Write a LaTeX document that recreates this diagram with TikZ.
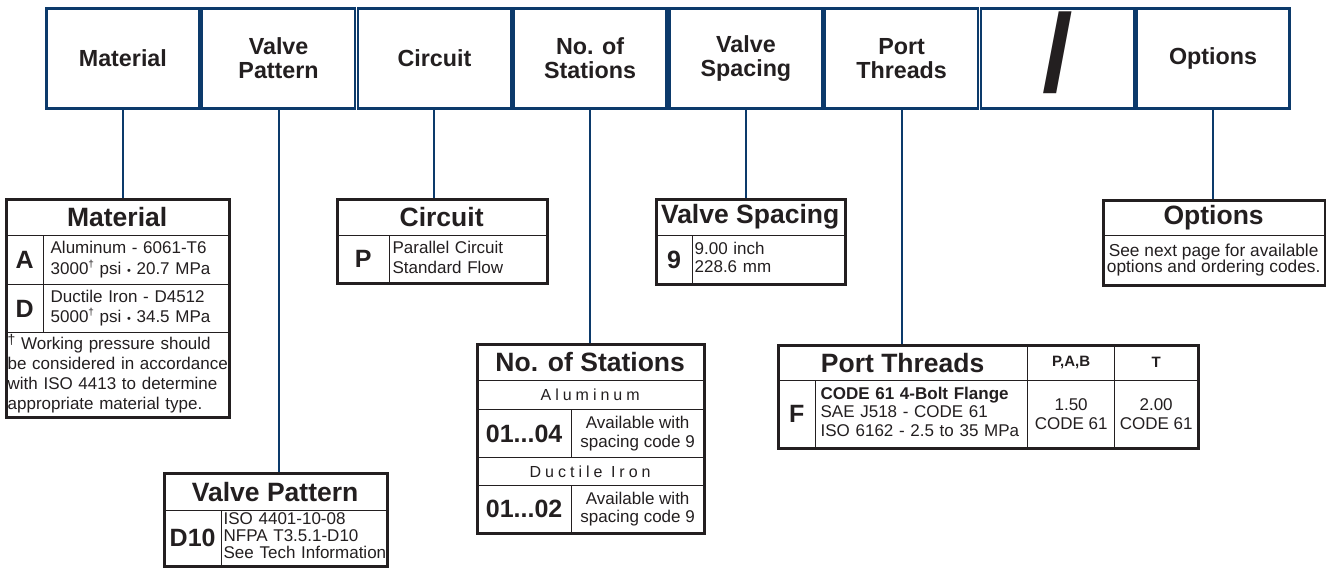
\documentclass[tikz,border=0pt]{standalone}
\usepackage{fontspec}
\setmainfont{Liberation Sans}
\definecolor{mvblue}{RGB}{12,58,107}
\definecolor{mvline}{RGB}{35,31,32}
\definecolor{mvtext}{RGB}{35,31,32}
\newcommand{\hdrfont}{\fontsize{23.3}{24}\selectfont\bfseries}
\newcommand{\ttlfont}{\fontsize{26.5}{28}\selectfont\bfseries}
\newcommand{\codefont}{\fontsize{25}{26}\selectfont\bfseries}
\newcommand{\txtfont}{\fontsize{17}{18.5}\selectfont}
\newcommand{\colfont}{\fontsize{15}{16}\selectfont\bfseries}
\newcommand{\spcfont}{\fontsize{16}{18}\selectfont\addfontfeature{LetterSpace=25}}
\newcommand{\slashfont}{\fontsize{110}{110}\selectfont\bfseries}
\newcommand{\dg}{\raisebox{0.42em}{\fontsize{10}{10}\selectfont †}}
\newcommand{\bul}{{\fontsize{11}{11}\selectfont •}}
\newcommand{\lines}[1]{\begin{tabular}{@{}l@{}}#1\end{tabular}}
\usetikzlibrary{positioning}

\begin{document}
\begin{tikzpicture}[x=1pt, y=-1pt,
  hdrbox/.style={draw=mvblue, line width=2.6pt, fill=white,
                 minimum width=153pt, minimum height=100.5pt,
                 inner sep=0pt, font=\hdrfont, text=mvtext, align=center},
  tblcell/.style={draw=mvline, line width=1.3pt, anchor=north west,
                  inner sep=0pt, text=mvtext, align=center, font=\txtfont},
  tbltitle/.style={tblcell, font=\ttlfont},
  codecell/.style={tblcell, font=\codefont},
  desccell/.style={tblcell, align=left, inner xsep=3pt},
  tblframe/.style={draw=mvline, line width=2.6pt, anchor=north west, inner sep=0pt},
  stem/.style={draw=mvblue, line width=2pt}
]
\useasboundingbox[fill=white] (0,0) rectangle (1326,575);

% Header row
\node[hdrbox] (material) at (122.9,58.5) {Material};
\node[hdrbox] (pattern)  at (278.6,58.5) {Valve\\Pattern};
\node[hdrbox] (circuit)  at (434.4,58.5) {Circuit};
\node[hdrbox] (stations) at (590.1,58.5) {No. of\\Stations};
\node[hdrbox] (spacing)  at (745.9,58.5) {Valve\\Spacing};
\node[hdrbox] (threads)  at (901.6,58.5) {Port\\Threads};
\node[hdrbox] (slash)    at (1057.4,58.5) {};
\node[font=\slashfont, text=mvtext, inner sep=0pt] (slashmark) at (1058,52.5) {/};
\node[hdrbox] (options)  at (1213.1,58.5) {Options};

% Material table
\node[tbltitle, minimum width=223pt, minimum height=37pt] (materialttl) at (5,198) {Material};
\node[codecell, minimum width=38pt, minimum height=49pt] (matA) at (5,235) {A};
\node[desccell, text width=171pt, minimum height=49pt, inner xsep=7pt, font=\fontsize{17}{20}\selectfont] (matAtxt) at (43,235)
  {\lines{Aluminum - 6061-T6\\3000\dg{} psi \bul{} 20.7 MPa}};
\node[codecell, minimum width=38pt, minimum height=48pt] (matD) at (5,284) {D};
\node[desccell, text width=171pt, minimum height=48pt, inner xsep=7pt, font=\fontsize{17}{20}\selectfont] (matDtxt) at (43,284)
  {\lines{Ductile Iron - D4512\\5000\dg{} psi \bul{} 34.5 MPa}};
\node[desccell, text width=219pt, minimum height=84pt, inner xsep=2pt, font=\fontsize{17}{20}\selectfont] (matnote) at (5,332)
  {\lines{\raisebox{0.3em}{\fontsize{14}{14}\selectfont †} Working pressure should\\be considered in accordance\\with ISO 4413 to determine\\appropriate material type.}};
\node[tblframe, minimum width=223pt, minimum height=218pt] (materialtab) at (5,198) {};

% Valve pattern table
\node[tbltitle, minimum width=223pt, minimum height=38pt] (patternttl) at (163,472) {Valve Pattern};
\node[codecell, minimum width=58pt, minimum height=55pt] (patD) at (163,510) {D10};
\node[desccell, text width=161pt, minimum height=55pt, inner xsep=2pt, font=\fontsize{17}{17}\selectfont] (patDtxt) at (221,510)
  {\lines{ISO 4401-10-08\\NFPA T3.5.1-D10\\See Tech Information}};
\node[tblframe, minimum width=223pt, minimum height=93pt] (patterntab) at (163,472) {};

% Circuit table
\node[tbltitle, minimum width=210pt, minimum height=37pt] (circuitttl) at (336,198) {Circuit};
\node[codecell, minimum width=53pt, minimum height=47pt] (cirP) at (336,235) {P};
\node[desccell, text width=151pt, minimum height=47pt, font=\fontsize{17}{20}\selectfont] (cirPtxt) at (389,235)
  {\lines{Parallel Circuit\\Standard Flow}};
\node[tblframe, minimum width=210pt, minimum height=84pt] (circuittab) at (336,198) {};

% No. of stations table
\node[tbltitle, minimum width=227pt, minimum height=37pt] (stationsttl) at (476,343) {No. of Stations};
\node[tblcell, minimum width=227pt, minimum height=29pt, font=\spcfont] (staAl) at (476,380) {Aluminum};
\node[codecell, minimum width=95pt, minimum height=48pt] (staAlnum) at (476,409) {01...04};
\node[tblcell, minimum width=132pt, minimum height=48pt] (staAltxt) at (571,409) {Available with\\spacing code 9};
\node[tblcell, minimum width=227pt, minimum height=28pt, font=\spcfont] (staFe) at (476,457) {Ductile Iron};
\node[codecell, minimum width=95pt, minimum height=47pt] (staFenum) at (476,485) {01...02};
\node[tblcell, minimum width=132pt, minimum height=47pt] (staFetxt) at (571,485) {Available with\\spacing code 9};
\node[tblframe, minimum width=227pt, minimum height=189pt] (stationstab) at (476,343) {};

% Valve spacing table
\node[tbltitle, minimum width=189pt, minimum height=37pt] (spacingttl) at (655,198) {Valve Spacing};
\node[codecell, minimum width=37pt, minimum height=48pt] (spc9) at (655,235) {9};
\node[desccell, text width=148pt, minimum height=48pt, inner xsep=2pt] (spc9txt) at (692,235) {\lines{9.00 inch\\228.6 mm}};
\node[tblframe, minimum width=189pt, minimum height=85pt] (spacingtab) at (655,198) {};

% Port threads table
\node[tbltitle, minimum width=250pt, minimum height=36pt] (threadsttl) at (777,344) {Port Threads};
\node[tblcell, minimum width=87pt, minimum height=36pt, font=\colfont] (thrPAB) at (1027,344) {P,A,B};
\node[tblcell, minimum width=83pt, minimum height=36pt, font=\colfont] (thrT) at (1114,344) {T};
\node[codecell, minimum width=38pt, minimum height=67pt] (thrF) at (777,380) {F};
\node[desccell, text width=202pt, minimum height=67pt, inner xsep=5pt] (thrFtxt) at (815,380)
  {\lines{\textbf{CODE 61 4-Bolt Flange}\\SAE J518 - CODE 61\\ISO 6162 - 2.5 to 35 MPa}};
\node[tblcell, minimum width=87pt, minimum height=67pt] (thrFPAB) at (1027,380) {1.50\\CODE 61};
\node[tblcell, minimum width=83pt, minimum height=67pt] (thrFT) at (1114,380) {2.00\\CODE 61};
\node[tblframe, minimum width=420pt, minimum height=103pt] (threadstab) at (777,344) {};

% Options table
\node[tbltitle, minimum width=222pt, minimum height=36pt] (optionsttl) at (1102,199) {Options};
\node[tblcell, minimum width=222pt, minimum height=49pt, font=\fontsize{17.3}{16.5}\selectfont] (optionstxt) at (1102,235)
  {See next page for available\\options and ordering codes.};
\node[tblframe, minimum width=222pt, minimum height=85pt] (optionstab) at (1102,199) {};

% Stems
\draw[stem] (material.south) -- (material.south |- materialtab.north);
\draw[stem] (pattern.south)  -- (pattern.south |- patterntab.north);
\draw[stem] (circuit.south)  -- (circuit.south |- circuittab.north);
\draw[stem] (stations.south) -- (stations.south |- stationstab.north);
\draw[stem] (spacing.south)  -- (spacing.south |- spacingtab.north);
\draw[stem] (threads.south)  -- (threads.south |- threadstab.north);
\draw[stem] (options.south)  -- (options.south |- optionstab.north);
\end{tikzpicture}
\end{document}
